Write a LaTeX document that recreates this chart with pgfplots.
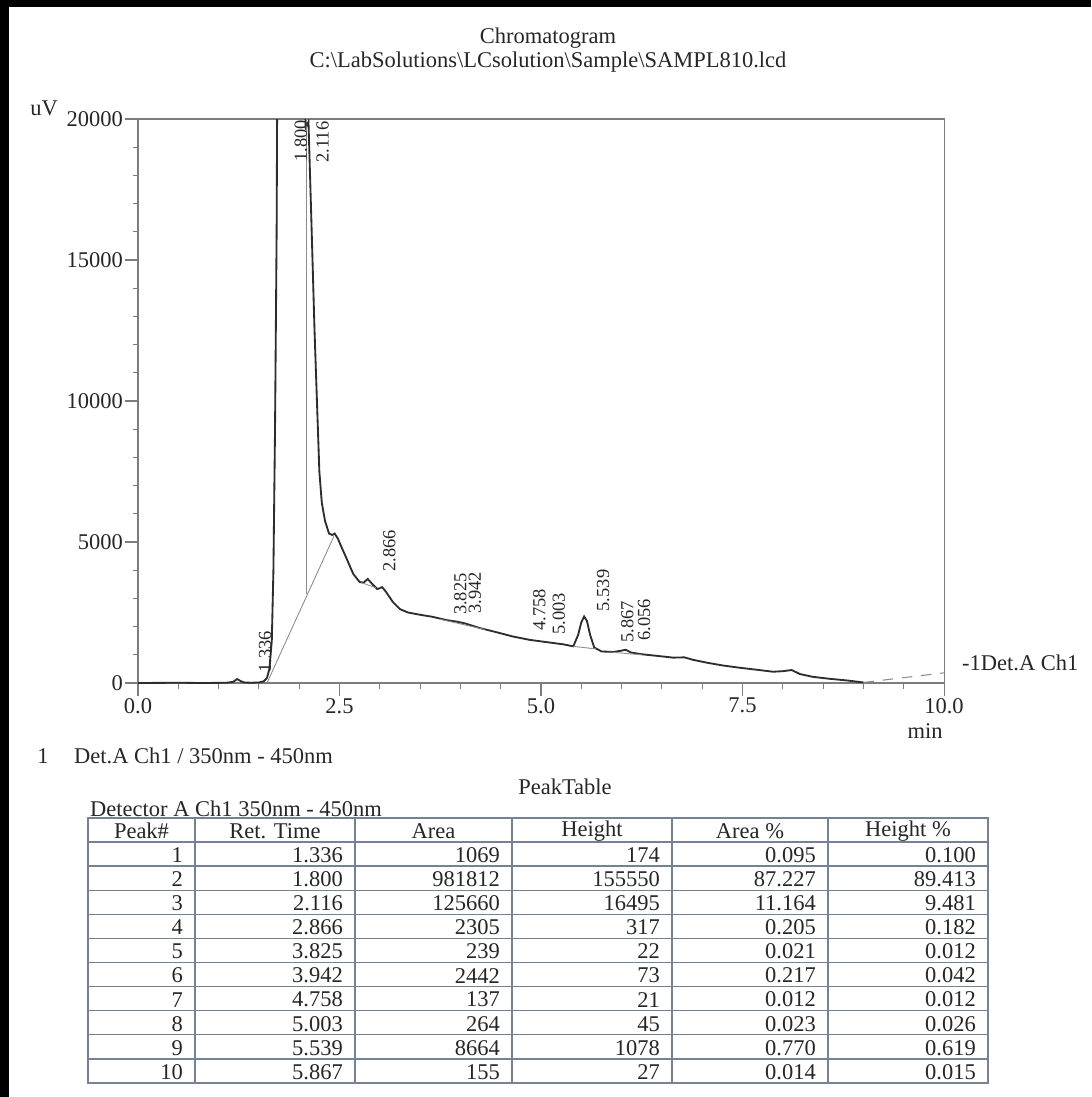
\documentclass[border=0pt]{standalone}
\usepackage{fontspec}
\setmainfont{Liberation Serif}
\usepackage{pgfplots}
\pgfplotsset{compat=1.18}
\definecolor{axgray}{RGB}{125,125,125}
\definecolor{tabline}{RGB}{115,130,148}
\definecolor{ink}{RGB}{38,38,38}
\definecolor{trace}{RGB}{45,45,45}
\definecolor{basegray}{RGB}{140,140,140}
\newcommand{\fs}{\fontsize{12.8}{15}\selectfont}
\newcommand{\fsl}{\fontsize{10.5}{12}\selectfont}
\begin{document}
\begin{tikzpicture}[x=0.2mm,y=-0.2mm]
\path[use as bounding box] (0,0) rectangle (1091,1097);
\fill[black] (0,0) rectangle (9,1097);
\fill[black] (0,0) rectangle (1091,7);
\begin{axis}[
  at={(27.6mm,-136.6mm)}, anchor=south west,
  scale only axis, width=161.2mm, height=112.8mm,
  xmin=0, xmax=10, ymin=0, ymax=20000,
  xtick={0,2.5,5,7.5,10}, xticklabels={0.0,2.5,5.0,7.5,10.0},
  minor xtick={0.5,1,1.5,2,3,3.5,4,4.5,5.5,6,6.5,7,8,8.5,9,9.5},
  ytick={0,5000,10000,15000,20000}, yticklabels={0,5000,10000,15000,20000},
  minor ytick={1000,2000,3000,4000,6000,7000,8000,9000,11000,12000,13000,14000,16000,17000,18000,19000},
  tick align=outside, xtick pos=bottom, ytick pos=left,
  major tick length=2.6mm, minor tick length=1.1mm,
  axis line style={axgray, line width=0.6pt},
  every tick/.style={axgray, line width=0.6pt},
  ticklabel style={font=\fs, text=ink},
  xticklabel style={inner sep=1pt},
  yticklabel style={inner sep=1pt},
  /pgf/number format/assume math mode=true,
  scaled y ticks=false,
]
\addplot[trace, line width=1.05pt] coordinates {
(0.00,0) (0.50,10) (0.80,0) (1.10,10) (1.18,40) (1.23,140) (1.28,60) (1.32,20)
(1.40,10) (1.50,20) (1.56,60) (1.60,180) (1.63,500) (1.66,1500) (1.68,4000)
(1.70,9000) (1.72,16000) (1.74,30000) (1.80,155550) (1.90,60000) (2.02,25000)
(2.08,19700) (2.115,19900) (2.15,16500) (2.19,12500) (2.22,10000) (2.25,7500)
(2.28,6400) (2.32,5750) (2.37,5300) (2.41,5250) (2.44,5300) (2.48,5120)
(2.52,4850) (2.59,4400) (2.67,3870) (2.75,3580) (2.80,3560) (2.85,3690)
(2.91,3500) (2.97,3330) (3.03,3400) (3.08,3220) (3.16,2880) (3.25,2620)
(3.35,2500) (3.50,2420) (3.65,2350) (3.83,2230) (3.95,2180) (4.05,2120)
(4.24,1950) (4.45,1800) (4.65,1650) (4.86,1530) (5.07,1450) (5.28,1370)
(5.40,1300) (5.46,1700) (5.50,2150) (5.535,2360) (5.57,2200) (5.61,1700)
(5.66,1260) (5.75,1120) (5.90,1100) (6.00,1150) (6.05,1180) (6.12,1080)
(6.25,1020) (6.45,960) (6.64,900) (6.78,910) (6.89,820) (7.06,720)
(7.26,620) (7.47,540) (7.68,470) (7.88,400) (8.00,420) (8.11,460)
(8.21,320) (8.37,220) (8.58,150) (8.80,90) (9.00,20)
};
\addplot[basegray, line width=0.5pt] coordinates {(1.60,0) (2.43,5200)};
\addplot[basegray, line width=0.5pt] coordinates {(2.09,3140) (2.09,20000)};
\addplot[basegray, line width=0.5pt] coordinates {(2.77,3560) (2.95,3380)};
\addplot[basegray, line width=0.5pt] coordinates {(3.75,2260) (4.30,1900)};
\addplot[basegray, line width=0.5pt] coordinates {(5.40,1300) (5.68,1210)};
\addplot[basegray, line width=0.5pt] coordinates {(5.85,1100) (6.25,1000)};
\addplot[basegray, line width=0.6pt, dash pattern=on 6pt off 5pt] coordinates {(9.0,20) (10,360)};
\begin{scope}[every node/.style={rotate=90, font=\fsl, text=ink, inner sep=0pt}]
\node at (axis cs:1.576,1100) {1.336};
\node at (axis cs:2.02,19220) {1.800};
\node at (axis cs:2.29,19180) {2.116};
\node at (axis cs:3.12,4680) {2.866};
\node at (axis cs:4.00,3150) {3.825};
\node at (axis cs:4.18,3190) {3.942};
\node at (axis cs:4.98,2600) {4.758};
\node at (axis cs:5.22,2450) {5.003};
\node at (axis cs:5.77,3280) {5.539};
\node at (axis cs:6.07,2170) {5.867};
\node at (axis cs:6.28,2250) {6.056};
\end{scope}
\end{axis}
\begin{scope}[every node/.style={font=\fs, text=ink}]
\node at (548,38) {Chromatogram};
\node at (548,62) {C:\textbackslash LabSolutions\textbackslash LCsolution\textbackslash Sample\textbackslash SAMPL810.lcd};
\node at (44,108) {uV};
\node at (925,731) {min};
\node[anchor=west] at (956,663) {-1Det.A Ch1};
\node at (43,756) {1};
\node[anchor=west] at (68,756) {Det.A Ch1 / 350nm - 450nm};
\node at (565,787) {PeakTable};
\node[anchor=west] at (84,809) {Detector A Ch1 350nm - 450nm};
% table
\draw[tabline, line width=0.7pt] (88,818) rectangle (988,1083);
\foreach \y in {842,866.1,890.2,914.3,938.4,962.5,986.6,1010.7,1034.8,1058.9}
  \draw[tabline, line width=0.7pt] (88,\y) -- (988,\y);
\foreach \x in {195,355,512,672,828}
  \draw[tabline, line width=0.7pt] (\x,818) -- (\x,1083);
\node at (141.5,831) {Peak\#};
\node at (275,831) {Ret. Time};
\node at (433.5,831) {Area};
\node at (592,831) {Height};
\node at (750,831) {Area \%};
\node at (908,831) {Height \%};
\foreach \a/\b/\c/\d/\e/\f [count=\i] in {
 1/1.336/1069/174/0.095/0.100,
 2/1.800/981812/155550/87.227/89.413,
 3/2.116/125660/16495/11.164/9.481,
 4/2.866/2305/317/0.205/0.182,
 5/3.825/239/22/0.021/0.012,
 6/3.942/2442/73/0.217/0.042,
 7/4.758/137/21/0.012/0.012,
 8/5.003/264/45/0.023/0.026,
 9/5.539/8664/1078/0.770/0.619,
 10/5.867/155/27/0.014/0.015}{
  \pgfmathsetmacro{\yy}{842+24.1*(\i-0.5)+1}
  \node[anchor=east] at (189,\yy) {\a};
  \node[anchor=east] at (349,\yy) {\b};
  \node[anchor=east] at (506,\yy) {\c};
  \node[anchor=east] at (666,\yy) {\d};
  \node[anchor=east] at (822,\yy) {\e};
  \node[anchor=east] at (982,\yy) {\f};
}
\end{scope}
\end{tikzpicture}
\end{document}
